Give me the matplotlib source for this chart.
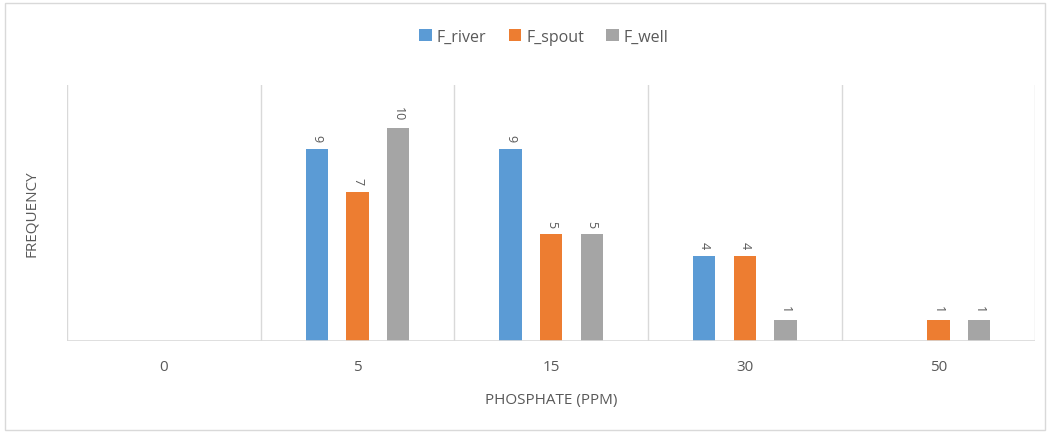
import numpy as np
import matplotlib
matplotlib.use("Agg")
import matplotlib.pyplot as plt
from matplotlib.patches import Rectangle

categories = ["0", "5", "15", "30", "50"]
f_river = [0, 9, 9, 4, 0]
f_spout = [0, 7, 5, 4, 1]
f_well = [0, 10, 5, 1, 1]

series = [("F_river", f_river, "#5B9BD5"),
          ("F_spout", f_spout, "#ED7D31"),
          ("F_well", f_well, "#A5A5A5")]

plt.rcParams['font.family'] = ['Open Sans', 'DejaVu Sans']
text_color = "#595959"
grid_color = "#D9D9D9"

fig = plt.figure(figsize=(10.5, 4.35), dpi=100)
fig.patches.append(Rectangle((0.005, 0.01), 0.99, 0.98, transform=fig.transFigure,
                             fill=False, edgecolor=grid_color, linewidth=1))
ax = fig.add_axes([0.064, 0.214, 0.922, 0.588])

x = np.arange(len(categories))
width = 0.115
offsets = [-0.21, 0.0, 0.21]

for (name, vals, color), off in zip(series, offsets):
    bars = ax.bar(x + off, vals, width, color=color, label=name, zorder=3)
    for b, v in zip(bars, vals):
        if v == 0:
            continue
        ax.text(b.get_x() + b.get_width() / 2, v + 0.35, str(v), rotation=270,
                ha="center", va="bottom", fontsize=9, color=text_color)

ax.set_xlim(-0.5, len(categories) - 0.5)
ax.set_ylim(0, 12)
for b in np.arange(len(categories) + 1) - 0.5:
    ax.axvline(b, color=grid_color, linewidth=1, zorder=1)
ax.axhline(0, color=grid_color, linewidth=1.2, zorder=4)

for s in ax.spines.values():
    s.set_visible(False)
ax.set_yticks([])
ax.set_xticks(x)
ax.set_xticklabels(categories, fontsize=11, color=text_color)
ax.tick_params(axis="x", length=0, pad=13)

ax.set_xlabel("PHOSPHATE (PPM)", fontsize=11, color=text_color, labelpad=13)
ax.set_ylabel("FREQUENCY", fontsize=11, color=text_color, labelpad=20)

fig.legend(loc="upper center", bbox_to_anchor=(0.518, 0.965), ncol=3, frameon=False,
           fontsize=11.5, handlelength=0.8, handleheight=0.8, handletextpad=0.3,
           columnspacing=1.4, labelcolor=text_color)

fig.savefig("out.png", dpi=100, facecolor="white")
